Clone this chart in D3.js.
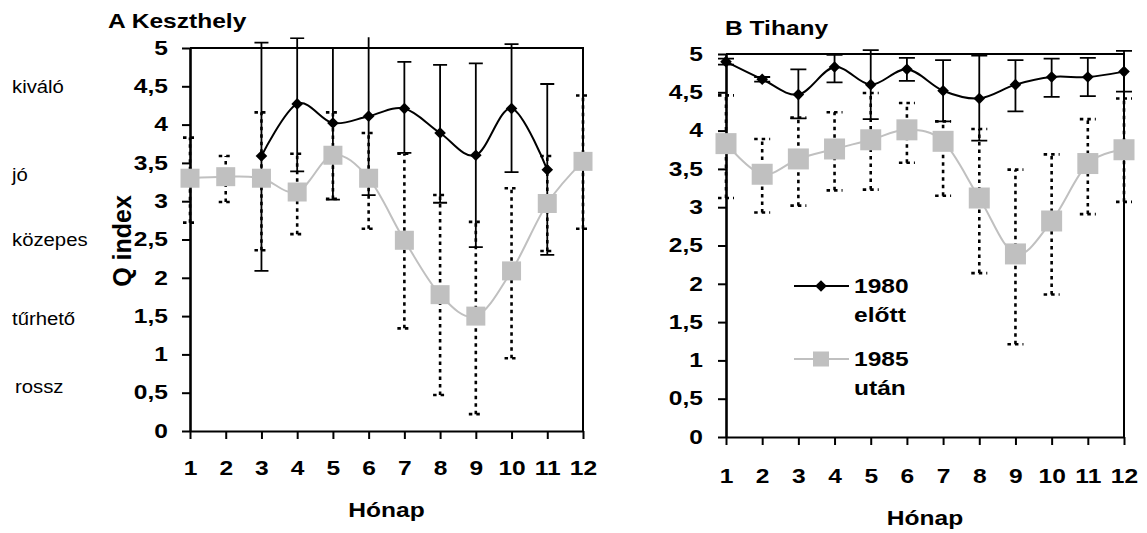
<!DOCTYPE html>
<html>
<head>
<meta charset="utf-8">
<script src="https://cdn.jsdelivr.net/npm/d3@7"></script>
<style>
  body { margin: 0; background: #fff; }
  svg { display: block; }
</style>
</head>
<body>
<div id="chart"></div>
<script>
// months and y ticks
const months = [1, 2, 3, 4, 5, 6, 7, 8, 9, 10, 11, 12]
const yTicks = [0, 0.5, 1, 1.5, 2, 2.5, 3, 3.5, 4, 4.5, 5]
const qualityLabels = ['kiváló', 'jó', 'közepes', 'tűrhető', 'rossz']
const legendLabels = [['1980', 'előtt'], ['1985', 'után']]

// A Keszthely
const keszBefore   = [null, null, 3.59, 4.27, 4.02, 4.11, 4.21, 3.89, 3.60, 4.21, 3.41, null]
const keszBeforeLo = [null, null, 2.09, 3.39, 3.02, 3.08, 3.63, 2.98, 2.40, 3.38, 2.30, null]
const keszBeforeHi = [null, null, 5.07, 5.13, 5.00, 5.30, 4.82, 4.78, 4.80, 5.05, 4.53, null]
const keszAfter    = [3.30, 3.32, 3.30, 3.12, 3.60, 3.30, 2.49, 1.78, 1.50, 2.09, 2.97, 3.52]
const keszAfterLo  = [2.72, 2.99, 2.36, 2.57, 3.03, 2.64, 1.34, 0.47, 0.22, 0.95, 2.35, 2.64]
const keszAfterHi  = [3.83, 3.59, 4.16, 3.62, 4.16, 3.89, 3.62, 3.08, 2.73, 3.17, 3.59, 4.38]

// B Tihany
const tihBefore   = [4.90, 4.67, 4.47, 4.83, 4.60, 4.80, 4.52, 4.42, 4.60, 4.70, 4.70, 4.77]
const tihBeforeLo = [4.86, 4.64, 4.16, 4.63, 4.15, 4.65, 4.12, 3.87, 4.25, 4.44, 4.45, 4.51]
const tihBeforeHi = [4.94, 4.70, 4.80, 4.99, 5.05, 4.95, 4.92, 4.98, 4.92, 4.94, 4.95, 5.04]
const tihAfter    = [3.83, 3.43, 3.63, 3.76, 3.88, 4.01, 3.86, 3.12, 2.39, 2.82, 3.57, 3.75]
const tihAfterLo  = [3.12, 2.93, 3.02, 3.22, 3.23, 3.58, 3.15, 2.14, 1.21, 1.86, 2.91, 3.07]
const tihAfterHi  = [4.46, 3.89, 4.17, 4.24, 4.49, 4.36, 4.12, 4.02, 3.49, 3.69, 4.15, 4.42]

const FONT = "'Liberation Sans', Arial, sans-serif"
const GRAY = '#c0c0c0'
const FS = 19.5
const SX = 1.26 // text in the original is drawn wide

let svg = d3
  .select('#chart')
  .append('svg')
  .attr('width', 1147)
  .attr('height', 533)
  .style('font-family', FONT)

function wideText(g, str, x, y, opts = {}) {
  return g.append('text')
    .attr('transform', `translate(${x},${y}) scale(${opts.sx || SX},1)`)
    .attr('text-anchor', opts.anchor || 'start')
    .attr('font-size', opts.size || FS)
    .attr('font-weight', opts.weight || 'bold')
    .text(str)
}

let diamond = r => `M0,${-r}L${r},0L0,${r}L${-r},0Z`
let comma = d => String(d).replace('.', ',')

function drawPanel(p) {
  let g = svg.append('g')
  let x = d3.scaleLinear().domain([1, 12]).range([p.left, p.right])
  let y = d3.scaleLinear().domain([0, 5]).range([p.bottom, p.top])

  let clipId = 'clip-' + p.id
  svg.append('clipPath').attr('id', clipId)
    .append('rect')
    .attr('x', p.left - 20).attr('y', y(5.14))
    .attr('width', p.right - p.left + 40).attr('height', p.bottom - y(5.14))

  // x axis
  let xa = g.append('g')
    .attr('transform', `translate(0,${p.bottom})`)
    .call(d3.axisBottom(x).tickValues(months).tickSize(8).tickSizeOuter(0)
      .tickPadding(p.xPad).tickFormat(d3.format('d')))
  xa.select('.domain').attr('stroke-width', 2.2)
  xa.selectAll('line').attr('stroke-width', 2)
  xa.selectAll('text')
    .attr('font-family', FONT).attr('font-size', FS).attr('font-weight', 'bold')
    .attr('transform', `scale(${SX},1)`)
    .attr('x', 0)

  // y axis
  let ya = g.append('g')
    .attr('transform', `translate(${p.left},0)`)
    .call(d3.axisLeft(y).tickValues(yTicks).tickSize(8).tickSizeOuter(0)
      .tickPadding(p.yPad).tickFormat(comma))
  ya.select('.domain').attr('stroke-width', 2.6)
  ya.selectAll('line').attr('stroke-width', 2)
  ya.selectAll('text')
    .attr('font-family', FONT).attr('font-size', FS).attr('font-weight', 'bold')
    .attr('x', 0)
    .attr('transform', `translate(${-(8 + p.yPad)},0) scale(${SX},1)`)

  // frame top & right
  g.append('path')
    .attr('d', `M${p.left},${y(5)}H${p.right}V${p.bottom}`)
    .attr('fill', 'none').attr('stroke', '#000').attr('stroke-width', 2)

  // error bars
  function bars(lo, hi, dotted, capW) {
    let eb = g.append('g').attr('clip-path', `url(#${clipId})`)
      .attr('stroke', '#000')
      .attr('stroke-width', dotted ? 2.6 : 1.8)
      .attr('stroke-dasharray', dotted ? '3.5,4' : null)
      .attr('fill', 'none')
    months.forEach((m, i) => {
      if (lo[i] == null) return
      let cx = x(m)
      eb.append('path')
        .attr('d', `M${cx},${y(lo[i])}V${y(hi[i])}` +
          `M${cx - capW / 2},${y(lo[i])}H${cx + capW / 2}` +
          `M${cx - capW / 2},${y(hi[i])}H${cx + capW / 2}`)
    })
  }
  bars(p.afterLo, p.afterHi, true, p.capW)
  bars(p.beforeLo, p.beforeHi, false, p.capW)

  let line = d3.line()
    .defined(d => d.v != null)
    .x(d => x(d.m)).y(d => y(d.v))
    .curve(d3.curveCardinal.tension(0))

  let beforeData = months.map((m, i) => ({ m: m, v: p.before[i] }))
  let afterData = months.map((m, i) => ({ m: m, v: p.after[i] }))

  g.append('path').datum(afterData)
    .attr('d', line).attr('fill', 'none')
    .attr('stroke', GRAY).attr('stroke-width', 2)
  g.append('path').datum(beforeData.filter(d => d.v != null))
    .attr('d', line).attr('fill', 'none')
    .attr('stroke', '#000').attr('stroke-width', 2)

  g.selectAll('.sq')
    .data(afterData)
    .enter().append('rect')
    .attr('x', d => x(d.m) - p.sq / 2)
    .attr('y', d => y(d.v) - p.sq / 2)
    .attr('width', p.sq).attr('height', p.sq)
    .attr('fill', GRAY)

  g.selectAll('.dm')
    .data(beforeData.filter(d => d.v != null))
    .enter().append('path')
    .attr('d', diamond(p.dm))
    .attr('transform', d => `translate(${x(d.m)},${y(d.v)})`)
    .attr('fill', '#000')

  wideText(g, p.title, p.titleX, p.titleY)
  wideText(g, 'Hónap', (p.left + p.right) / 2, p.xTitleY, { anchor: 'middle' })
  return { x, y, g }
}

drawPanel({
  id: 'a', left: 190, right: 583, top: 48, bottom: 431,
  xPad: 22, yPad: 14, capW: 14, sq: 19, dm: 5.8,
  title: 'A Keszthely', titleX: 108, titleY: 28, xTitleY: 517,
  before: keszBefore, beforeLo: keszBeforeLo, beforeHi: keszBeforeHi,
  after: keszAfter, afterLo: keszAfterLo, afterHi: keszAfterHi
})

drawPanel({
  id: 'b', left: 726, right: 1124, top: 54, bottom: 437,
  xPad: 24, yPad: 15, capW: 16, sq: 21, dm: 5.8,
  title: 'B Tihany', titleX: 725, titleY: 35, xTitleY: 525,
  before: tihBefore, beforeLo: tihBeforeLo, beforeHi: tihBeforeHi,
  after: tihAfter, afterLo: tihAfterLo, afterHi: tihAfterHi
})

// Q index title
svg.append('text')
  .attr('transform', `translate(131,241) rotate(-90)`)
  .attr('text-anchor', 'middle')
  .attr('font-size', 25).attr('font-weight', 'bold')
  .text('Q index')

// quality category labels
let qualPos = [[12, 93], [12, 181], [12, 246], [12, 325], [15, 393]]
qualityLabels.forEach((t, i) => {
  wideText(svg, t, qualPos[i][0], qualPos[i][1], { size: 17.5, weight: 'normal', sx: 1.16 })
})

// legend in panel B
let legend = svg.append('g')
let legRows = [286, 359]
legendLabels.forEach((lab, i) => {
  let ly = legRows[i]
  legend.append('line')
    .attr('x1', 794).attr('x2', 849).attr('y1', ly).attr('y2', ly)
    .attr('stroke', i === 0 ? '#000' : GRAY).attr('stroke-width', 2)
  if (i === 0) {
    legend.append('path').attr('d', diamond(5.8))
      .attr('transform', `translate(821,${ly})`).attr('fill', '#000')
  } else {
    legend.append('rect').attr('x', 821 - 8).attr('y', ly - 7.5)
      .attr('width', 16).attr('height', 15).attr('fill', GRAY)
  }
  wideText(legend, lab[0], 854, ly + 7)
  wideText(legend, lab[1], 854, ly + 36)
})
</script>
</body>
</html>
